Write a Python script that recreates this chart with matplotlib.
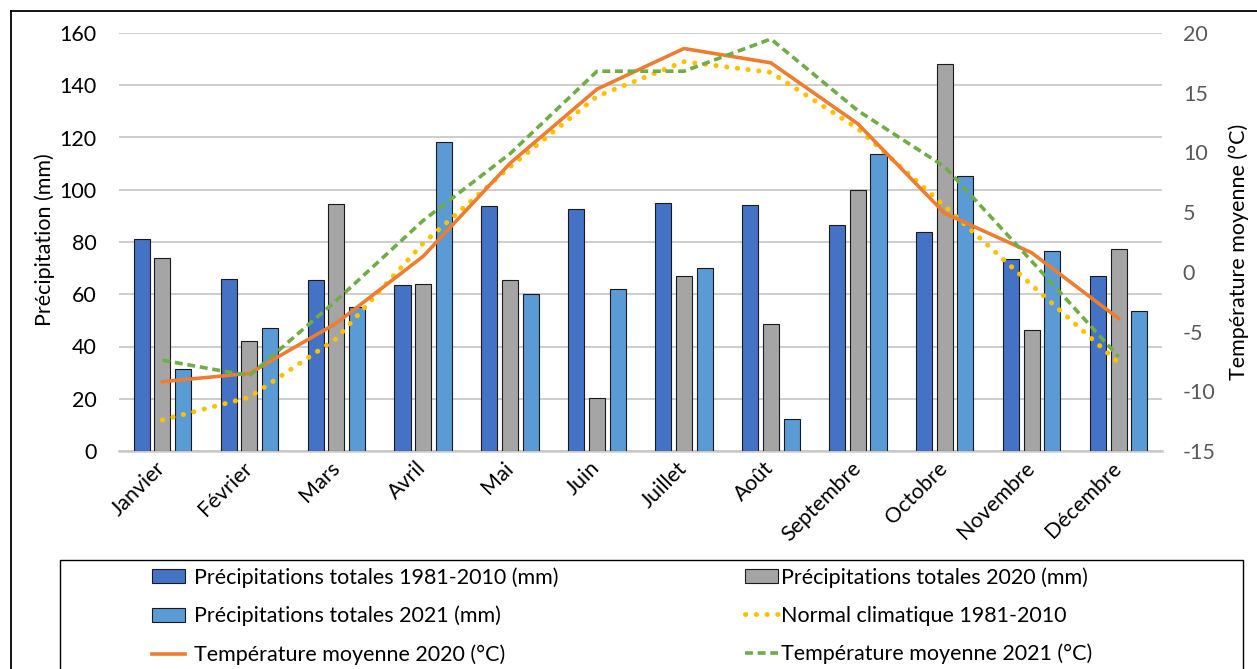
import matplotlib
matplotlib.use("Agg")
import matplotlib.pyplot as plt
import numpy as np
from matplotlib.patches import Rectangle, Patch
from matplotlib.lines import Line2D

plt.rcParams['font.family'] = ['Lato', 'DejaVu Sans']
plt.rcParams['axes.unicode_minus'] = False

months = ["Janvier", "Février", "Mars", "Avril", "Mai", "Juin", "Juillet",
          "Août", "Septembre", "Octobre", "Novembre", "Décembre"]

precip_1981_2010 = [81, 66, 65.5, 63.4, 93.7, 92.6, 95, 94.2, 86.5, 84, 73.5, 67]
precip_2020 = [73.7, 42.2, 94.7, 63.8, 65.6, 20.4, 67.1, 48.6, 100, 148, 46.4, 77.3]
precip_2021 = [31.3, 47, 55.2, 118.3, 60.2, 61.9, 70.2, 12.2, 113.6, 105.4, 76.6, 53.7]

normal_1981_2010 = [-12.4, -10.5, -5.6, 2.4, 8.8, 14.7, 17.6, 16.7, 12.0, 5.5, -1.1, -7.6]
temp_2020 = [-9.2, -8.5, -4.3, 1.3, 9.1, 15.3, 18.7, 17.5, 12.4, 4.9, 1.6, -3.9]
temp_2021 = [-7.4, -8.7, -2.4, 4.3, 9.9, 16.8, 16.8, 19.5, 13.5, 8.8, 0.9, -7.1]

left_ticks = [0, 20, 40, 60, 80, 100, 120, 140, 160]
right_ticks = [-15, -10, -5, 0, 5, 10, 15, 20]

C_BLUE = "#4472C4"
C_GRAY = "#A5A5A5"
C_LBLUE = "#5B9BD5"
C_ORANGE = "#ED7D31"
C_YELLOW = "#FFC000"
C_GREEN = "#70AD47"
GRID = "#C9C9C9"
FS = 15.5

W, H = 1257, 669
fig = plt.figure(figsize=(W / 100, H / 100), dpi=100)

ax = fig.add_axes([119 / W, 1 - 451 / H, (1162 - 119) / W, (451 - 33) / H])
ax2 = ax.twinx()

x = np.arange(len(months))
off = 0.238
bw = 0.185
ax.bar(x - off, precip_1981_2010, bw, color=C_BLUE, edgecolor="#1a1a1a", linewidth=0.8, zorder=3)
ax.bar(x, precip_2020, bw, color=C_GRAY, edgecolor="#1a1a1a", linewidth=0.8, zorder=3)
ax.bar(x + off, precip_2021, bw, color=C_LBLUE, edgecolor="#1a1a1a", linewidth=0.8, zorder=3)

ax.set_ylim(0, 160)
ax.set_xlim(-0.5, len(months) - 0.5)
ax.set_yticks(left_ticks)
ax.yaxis.grid(True, color=GRID, linewidth=1.3, zorder=0)
ax.set_axisbelow(True)
for s in ["top", "left", "right"]:
    ax.spines[s].set_visible(False)
ax.spines["bottom"].set_color(GRID)
ax.spines["bottom"].set_linewidth(1.8)
ax.tick_params(axis="y", length=0, labelsize=FS, labelcolor="black", pad=16)
ax.tick_params(axis="x", length=0, labelsize=FS, pad=10)
ax.set_xticks(x)
ax.set_xticklabels(months, rotation=45, ha="right", va="center", rotation_mode="anchor")

ax2.plot(x, normal_1981_2010, color=C_YELLOW, linewidth=3.6, linestyle=(0, (0.05, 2.1)),
         dash_capstyle="round", solid_capstyle="round", zorder=4)
ax2.plot(x, temp_2020, color=C_ORANGE, linewidth=2.6, zorder=5)
ax2.plot(x, temp_2021, color=C_GREEN, linewidth=2.6, linestyle=(0, (2.2, 1.3)), zorder=6)
ax2.set_ylim(-15, 20)
ax2.set_yticks(right_ticks)
for s in ["top", "left", "right", "bottom"]:
    ax2.spines[s].set_visible(False)
ax2.tick_params(axis="y", length=0, labelsize=FS, labelcolor="#595959", pad=15)
ax.set_zorder(ax2.get_zorder() - 1)
ax.patch.set_visible(True)
ax2.patch.set_visible(False)

# axis titles
fig.text(45 / W, 1 - 240 / H, "Précipitation (mm)", rotation=90, ha="center", va="center",
         fontsize=FS)
fig.text(1239 / W, 1 - 252 / H, "Température moyenne (°C)", rotation=90, ha="center",
         va="center", fontsize=FS)

# outer chart frame (top and left edges)
fig.add_artist(Line2D([11 / W, 11 / W], [-0.05, 1 - 11 / H], transform=fig.transFigure,
                      color="black", linewidth=1.3))
fig.add_artist(Line2D([11 / W, 1.05], [1 - 11 / H, 1 - 11 / H], transform=fig.transFigure,
                      color="black", linewidth=1.3))

# legend box
fig.add_artist(Rectangle((60 / W, -0.1), (1243 - 60) / W, 0.1 + 1 - 560 / H,
                         transform=fig.transFigure, fill=False, edgecolor="black", linewidth=1.0))

col1 = [Patch(facecolor=C_BLUE, edgecolor="#1a1a1a", linewidth=0.8),
        Patch(facecolor=C_LBLUE, edgecolor="#1a1a1a", linewidth=0.8),
        Line2D([], [], color=C_ORANGE, linewidth=2.6)]
lab1 = ["Précipitations totales 1981-2010 (mm)", "Précipitations totales 2021 (mm)",
        "Température moyenne 2020 (°C)"]
col2 = [Patch(facecolor=C_GRAY, edgecolor="#1a1a1a", linewidth=0.8),
        Line2D([], [], color=C_YELLOW, linewidth=3.6, linestyle=(0, (0.05, 2.1)),
               dash_capstyle="round"),
        Line2D([], [], color=C_GREEN, linewidth=2.6, linestyle=(0, (2.2, 1.3)))]
lab2 = ["Précipitations totales 2020 (mm)", "Normal climatique 1981-2010",
        "Température moyenne 2021 (°C)"]

common = dict(frameon=False, fontsize=FS, borderpad=0, borderaxespad=0,
              labelspacing=0.84, handlelength=1.55, handleheight=0.65)
leg1 = fig.legend(col1, lab1, loc="upper left", bbox_to_anchor=(152 / W, 1 - 567 / H),
                  handletextpad=0.4, **common)
leg2 = fig.legend(col2, lab2, loc="upper left", bbox_to_anchor=(745 / W, 1 - 567 / H),
                  handletextpad=0.12, **common)

fig.savefig("out.png", dpi=100)
